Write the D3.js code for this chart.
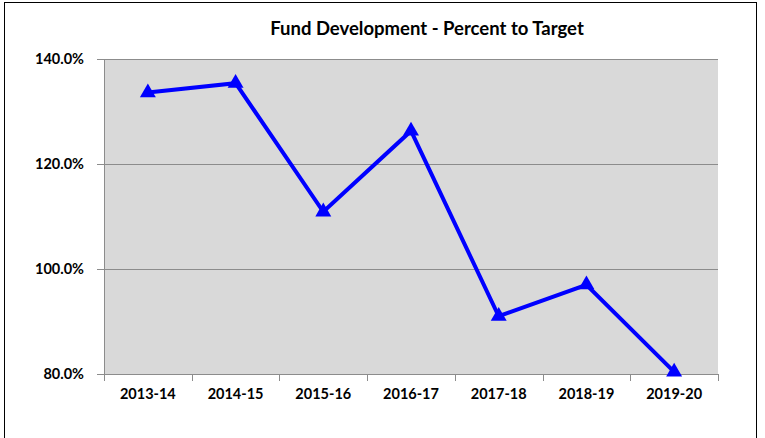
<!DOCTYPE html>
<html>
<head>
<meta charset="utf-8">
<script src="https://cdn.jsdelivr.net/npm/d3@7"></script>
<style>
  body { margin: 0; background: #fff; }
  text { font-family: Lato, "Open Sans", sans-serif; font-weight: bold; fill: #000; }
</style>
</head>
<body>
<div id="chart"></div>
<script>
const years = ['2013-14', '2014-15', '2015-16', '2016-17', '2017-18', '2018-19', '2019-20'];
const pctToTarget = [133.6, 135.4, 110.9, 126.3, 91.0, 97.0, 80.4];
const yTicks = [80, 100, 120, 140];

const width = 765, height = 438;
const margin = {top: 59, right: 47, bottom: 64, left: 104};

const svg = d3.select('#chart').append('svg')
  .attr('width', width)
  .attr('height', height);

// outer chart border
svg.append('rect')
  .attr('x', 4.5).attr('y', 2.5)
  .attr('width', 752).attr('height', 440)
  .attr('fill', 'none')
  .attr('stroke', '#000')
  .attr('stroke-width', 1);

svg.append('text')
  .attr('x', 427).attr('y', 35)
  .attr('text-anchor', 'middle')
  .style('font-size', '18.5px')
  .text('Fund Development - Percent to Target');

const x = d3.scaleBand()
  .domain(years)
  .range([margin.left, width - margin.right]);

const y = d3.scaleLinear()
  .domain([80, 140])
  .range([height - margin.bottom, margin.top]);

// plot background
svg.append('rect')
  .attr('x', margin.left).attr('y', margin.top)
  .attr('width', x.range()[1] - x.range()[0])
  .attr('height', y(80) - y(140))
  .attr('fill', '#d9d9d9');

// gridlines
svg.append('g')
  .selectAll('line')
  .data(yTicks)
  .join('line')
  .attr('x1', margin.left - 7).attr('x2', width - margin.right)
  .attr('y1', d => y(d) + 0.5).attr('y2', d => y(d) + 0.5)
  .attr('stroke', '#8c8c8c')
  .attr('stroke-width', 1);

// y axis line
svg.append('line')
  .attr('x1', margin.left + 0.5).attr('x2', margin.left + 0.5)
  .attr('y1', y(140)).attr('y2', y(80))
  .attr('stroke', '#8c8c8c');

svg.append('g')
  .selectAll('text')
  .data(yTicks)
  .join('text')
  .attr('x', margin.left - 20)
  .attr('y', d => y(d) + 5)
  .attr('text-anchor', 'end')
  .style('font-size', '14.5px')
  .text(d => d.toFixed(1) + '%');

// x ticks at category boundaries
const bounds = years.map(d => x(d)).concat([x.range()[1]]);
svg.append('g')
  .selectAll('line')
  .data(bounds)
  .join('line')
  .attr('x1', d => Math.round(d) + 0.5).attr('x2', d => Math.round(d) + 0.5)
  .attr('y1', y(80)).attr('y2', y(80) + 7)
  .attr('stroke', '#8c8c8c');

svg.append('g')
  .selectAll('text')
  .data(years)
  .join('text')
  .attr('x', d => x(d) + x.bandwidth() / 2)
  .attr('y', y(80) + 25)
  .attr('text-anchor', 'middle')
  .style('font-size', '14.5px')
  .text(d => d);

const pts = years.map((d, i) => [x(d) + x.bandwidth() / 2, y(pctToTarget[i])]);

svg.append('path')
  .attr('d', d3.line()(pts))
  .attr('fill', 'none')
  .attr('stroke', '#0000ff')
  .attr('stroke-width', 4)
  .attr('stroke-linejoin', 'miter');

svg.append('g')
  .selectAll('path')
  .data(pts)
  .join('path')
  .attr('transform', d => `translate(${d[0]},${d[1]})`)
  .attr('d', d3.symbol(d3.symbolTriangle, 110)())
  .attr('fill', '#0000ff');
</script>
</body>
</html>
